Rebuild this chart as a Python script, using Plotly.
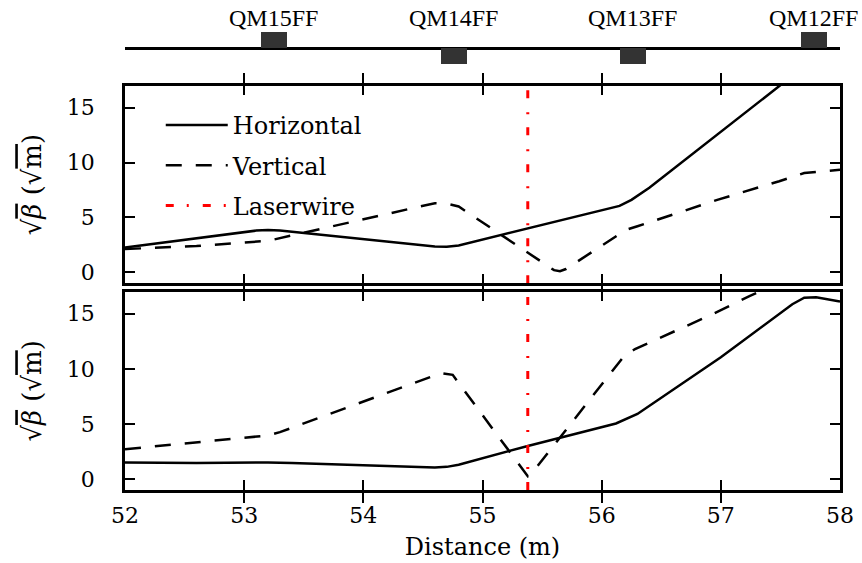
import plotly.graph_objects as go

# ---------------- data ----------------
magnet_names = ["QM15FF", "QM14FF", "QM13FF", "QM12FF"]
magnet_pos = [53.25, 54.76, 56.26, 57.78]
magnet_side = [1, -1, -1, 1]
magnet_len = 0.22

laserwire_pos = 55.38

x_top_h = [52.0, 53.1, 53.2, 53.3, 54.6, 54.7, 54.8, 56.15, 56.25, 56.4, 58.0]
y_top_h = [2.27, 3.8, 3.85, 3.8, 2.35, 2.33, 2.45, 6.05, 6.6, 7.7, 21.3]

x_top_v = [52.0, 52.6, 53.2, 54.6, 54.7, 54.8, 55.6, 55.65, 55.7, 56.2, 56.3, 56.97, 57.49, 57.7, 58.0]
y_top_v = [2.12, 2.4, 2.87, 6.3, 6.25, 6.0, 0.2, 0.1, 0.3, 3.85, 4.2, 6.6, 8.3, 9.05, 9.35]

x_bot_h = [52.0, 52.6, 53.2, 53.4, 54.6, 54.7, 54.8, 55.38, 56.12, 56.2, 56.3, 57.0, 57.6, 57.7, 57.8, 58.0]
y_bot_h = [1.5, 1.45, 1.5, 1.45, 1.05, 1.1, 1.3, 3.0, 5.04, 5.4, 5.9, 11.05, 15.86, 16.45, 16.5, 16.1]

x_bot_v = [52.0, 52.5, 53.0, 53.2, 53.3, 54.65, 54.75, 55.35, 55.38, 55.42, 56.18, 56.28, 56.93, 57.24, 58.0]
y_bot_v = [2.7, 3.2, 3.7, 3.95, 4.25, 9.6, 9.45, 0.6, 0.25, 0.6, 11.05, 11.8, 14.95, 16.6, 20.2]

x_range = [52, 58]
y_range = [-1, 17]
x_ticks = [52, 53, 54, 55, 56, 57, 58]
y_ticks = [0, 5, 10, 15]

# ---------------- style ----------------
FONT = "DejaVu Serif"
LW = 2.5
DASH = "16px,14px"
DASHDOT = "8px,13px,2px,14px"
OL = "<span style='text-decoration:overline'>"
ytitle = "√" + OL + "<i>β</i></span> (√" + OL + "m</span>)"

fig = go.Figure()

# top panel (x2, y2)
fig.add_trace(go.Scatter(x=x_top_h, y=y_top_h, mode="lines", name="Horizontal",
                         line=dict(color="black", width=LW), xaxis="x2", yaxis="y2",
                         legendgroup="h"))
fig.add_trace(go.Scatter(x=x_top_v, y=y_top_v, mode="lines", name="Vertical",
                         line=dict(color="black", width=LW, dash=DASH), xaxis="x2", yaxis="y2",
                         legendgroup="v"))
fig.add_trace(go.Scatter(x=[laserwire_pos, laserwire_pos], y=y_range, mode="lines", name="Laserwire",
                         line=dict(color="red", width=3, dash=DASHDOT), xaxis="x2", yaxis="y2",
                         legendgroup="l"))

# bottom panel (x, y)
fig.add_trace(go.Scatter(x=x_bot_h, y=y_bot_h, mode="lines", showlegend=False,
                         line=dict(color="black", width=LW), legendgroup="h"))
fig.add_trace(go.Scatter(x=x_bot_v, y=y_bot_v, mode="lines", showlegend=False,
                         line=dict(color="black", width=LW, dash=DASH), legendgroup="v"))
fig.add_trace(go.Scatter(x=[laserwire_pos, laserwire_pos], y=y_range, mode="lines", showlegend=False,
                         line=dict(color="red", width=3, dash=DASHDOT), legendgroup="l"))

# empty traces to host the overlay tick axes
fig.add_trace(go.Scatter(x=[], y=[], xaxis="x", yaxis="y4", showlegend=False, hoverinfo="skip"))
fig.add_trace(go.Scatter(x=[], y=[], xaxis="x2", yaxis="y5", showlegend=False, hoverinfo="skip"))

# magnet strip (x3, y3)
fig.add_trace(go.Bar(x=magnet_pos, y=magnet_side, base=0, width=magnet_len,
                     marker=dict(color="#333333", line=dict(width=0)),
                     showlegend=False, xaxis="x3", yaxis="y3", hoverinfo="skip"))

for name, pos in zip(magnet_names, magnet_pos):
    fig.add_annotation(x=pos, y=1.85, xref="x3", yref="y3", text=name, showarrow=False,
                       font=dict(family="Liberation Serif", size=24, color="black"),
                       xanchor="center", yanchor="middle")

common_x = dict(range=x_range, tickvals=x_ticks, ticks="inside", ticklen=10, tickwidth=1.5,
                tickcolor="black", showline=True, linecolor="black", linewidth=LW,
                mirror="allticks", showgrid=False, zeroline=False)
# labelled y axes: transparent outside ticks push the labels away from the frame
common_y = dict(range=y_range, tickvals=y_ticks, ticks="outside", ticklen=23, tickwidth=1,
                tickcolor="rgba(0,0,0,0)", showline=True, linecolor="black", linewidth=LW,
                mirror=True, showgrid=False, zeroline=False,
                tickfont=dict(family=FONT, size=22, color="black"),
                title=dict(text=ytitle, font=dict(family=FONT, size=26, color="black"), standoff=18))
# overlay y axes: visible inside ticks on both sides, no labels
tick_y = dict(range=y_range, tickvals=y_ticks, ticks="inside", ticklen=10, tickwidth=1.5,
              tickcolor="black", showline=False, mirror="allticks", showgrid=False,
              zeroline=False, showticklabels=False)

fig.update_layout(
    width=862, height=563,
    margin=dict(l=125, r=22, t=0, b=73),
    paper_bgcolor="white", plot_bgcolor="white",
    font=dict(family=FONT, size=20, color="black"),
    xaxis=dict(**common_x, anchor="y", domain=[0, 1],
               tickfont=dict(family=FONT, size=22, color="black"), ticklabelstandoff=4,
               title=dict(text="Distance (m)", font=dict(family=FONT, size=24, color="black"), standoff=12)),
    yaxis=dict(**common_y, anchor="x", domain=[0, 0.4047]),
    yaxis4=dict(**tick_y, anchor="x", overlaying="y"),
    xaxis2=dict(**common_x, anchor="y2", domain=[0, 1], showticklabels=False, matches="x"),
    yaxis2=dict(**common_y, anchor="x2", domain=[0.4218, 0.8251]),
    yaxis5=dict(**tick_y, anchor="x2", overlaying="y2"),
    xaxis3=dict(range=x_range, domain=[0, 1], anchor="y3", visible=False),
    yaxis3=dict(range=[-1.375, 3], domain=[0.857, 1], anchor="x3", showgrid=False,
                showticklabels=False, showline=False, ticks="", zeroline=True,
                zerolinecolor="black", zerolinewidth=2.5),
    legend=dict(x=0.05, y=0.79, xanchor="left", yanchor="top", bgcolor="rgba(0,0,0,0)",
                font=dict(family=FONT, size=24, color="black"), traceorder="grouped",
                tracegroupgap=6, itemwidth=62),
    showlegend=True,
    bargap=0,
)

fig.write_html("out.html")
